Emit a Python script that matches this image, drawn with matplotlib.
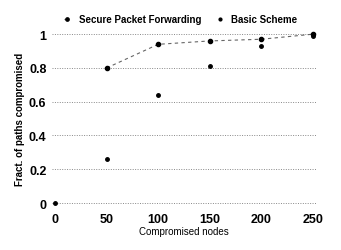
import matplotlib
matplotlib.use("Agg")
import matplotlib.pyplot as plt

plt.rcParams['font.family'] = ['Liberation Sans', 'DejaVu Sans']

# data
secure_nodes = [50, 100, 150, 200, 250]
secure = [0.80, 0.94, 0.96, 0.97, 1.0]
basic_nodes = [0, 50, 100, 150, 200, 250]
basic = [0.0, 0.26, 0.64, 0.81, 0.93, 0.99]
xticks = [0, 50, 100, 150, 200, 250]
yticks = [0, 0.2, 0.4, 0.6, 0.8, 1]
ylabels = ['0', '0.2', '0.4', '0.6', '0.8', '1']

fig = plt.figure(figsize=(3.41, 2.51), dpi=100)
ax = fig.add_axes([0.1525, 0.171, 0.774, 0.709])

ax.plot(secure_nodes, secure, linestyle=(0, (3, 3)), color='#666666', lw=0.8,
        marker='o', ms=3, mfc='black', mec='black', label='Secure Packet Forwarding')
ax.plot(basic_nodes, basic, linestyle='none', color='black',
        marker='o', ms=2.5, label='Basic Scheme')

ax.set_xlim(-3, 253)
ax.set_ylim(-0.024, 1.03)
ax.set_xticks(xticks)
ax.set_yticks(yticks)
ax.set_yticklabels(ylabels)
for s in ax.spines.values():
    s.set_visible(False)
ax.tick_params(length=0, labelsize=9, pad=4)
for t in ax.get_xticklabels() + ax.get_yticklabels():
    t.set_fontweight('bold')
ax.grid(axis='y', linestyle=(0, (1, 1.5)), color='#888888', lw=0.7)

ax.set_xlabel('Compromised nodes', fontsize=7, labelpad=1)
ax.set_ylabel('Fract. of paths compromised', fontsize=7, fontweight='bold', labelpad=3)

fig.legend(loc='upper center', bbox_to_anchor=(0.53, 0.975), ncol=2, frameon=False,
           prop={'size': 7, 'weight': 'bold'}, handlelength=0.6, columnspacing=1.6,
           handletextpad=0.9, markerscale=0.8)

fig.savefig('out.png', dpi=100)
